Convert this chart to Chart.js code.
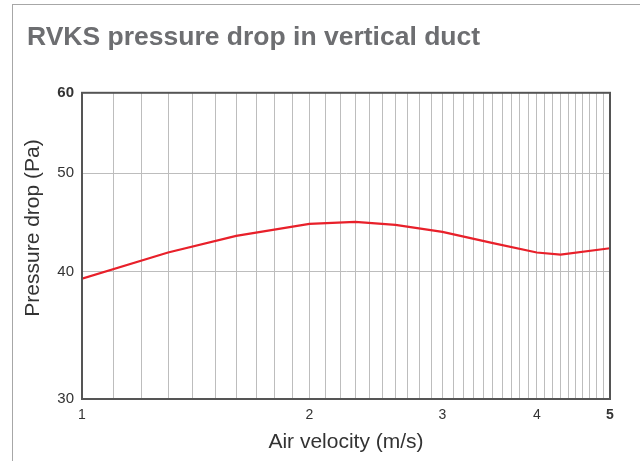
<!DOCTYPE html>
<html>
<head>
<meta charset="utf-8">
<script src="https://cdn.jsdelivr.net/npm/chart.js@4/dist/chart.umd.min.js"></script>
<style>
  html, body { margin: 0; padding: 0; background: #fff; }
  #wrap { position: relative; width: 640px; height: 461px; }
  #card { position: absolute; left: 12px; top: 4px; right: -10px; bottom: -10px;
          border-left: 1.5px solid #a7a7a7; border-top: 1.5px solid #a7a7a7; }
  canvas { position: absolute; left: 0; top: 0; }
</style>
</head>
<body>
<div id="wrap">
  <div id="card"></div>
  <canvas id="myChart" width="640" height="461"></canvas>
</div>
<script>
const velocity = [1, 1.3, 1.6, 2.0, 2.3, 2.6, 3.0, 3.5, 4.0, 4.3, 5.0];
const pressure = [39.4, 41.8, 43.4, 44.6, 44.8, 44.5, 43.8, 42.7, 41.8, 41.6, 42.2];

const xLabels = [1, 2, 3, 4, 5];
const yLabels = [30, 40, 50, 60];

// vertical grid every 0.1 m/s
const xGrid = [];
for (let i = 10; i <= 50; i++) xGrid.push(i / 10);

const points = velocity.map((v, i) => ({ x: v, y: pressure[i] }));

const yTitle = {
  id: "yTitle",
  afterDraw(chart) {
    const c = chart.ctx;
    c.save();
    c.translate(33, 228);
    c.rotate(-Math.PI / 2);
    c.font = "21px 'Liberation Sans', Arial, sans-serif";
    c.fillStyle = "#333";
    c.textAlign = "center";
    c.textBaseline = "middle";
    c.fillText("Pressure drop (Pa)", 0, 0);
    c.restore();
  },
};

const myChart = new Chart("myChart", {
  type: "line",
  data: {
    datasets: [
      {
        label: "RVKS",
        data: points,
        borderColor: "#e8202a",
        borderWidth: 2.2,
        pointRadius: 0,
        tension: 0,
        fill: false,
      },
    ],
  },
  options: {
    responsive: false,
    animation: false,
    layout: { padding: { left: 27, right: 30, top: 0, bottom: 0 } },
    plugins: {
      legend: { display: false },
      tooltip: { enabled: false },
      title: {
        display: true,
        text: "RVKS pressure drop in vertical duct",
        align: "start",
        color: "#6d6e71",
        font: { family: "'Liberation Sans', Arial, sans-serif", size: 26.5, weight: "bold" },
        padding: { top: 22, bottom: 39 },
      },
    },
    scales: {
      x: {
        type: "logarithmic",
        min: 1,
        max: 5,
        afterBuildTicks: (s) => { s.ticks = xGrid.map((v) => ({ value: v })); },
        afterFit: (s) => { s.height = 62; },
        grid: { color: "#bdbdbd", lineWidth: 1, drawTicks: false },
        border: { color: "#555", width: 2 },
        ticks: {
          autoSkip: false,
          maxRotation: 0,
          padding: 8,
          color: "#333",
          font: (ctx) => ({
            family: "'Liberation Sans', Arial, sans-serif",
            size: 14,
            weight: ctx.tick && ctx.tick.value === 5 ? "bold" : "normal",
          }),
          callback: (v) => (xLabels.includes(v) ? String(v) : ""),
        },
        title: {
          display: true,
          text: "Air velocity (m/s)",
          color: "#333",
          font: { family: "'Liberation Sans', Arial, sans-serif", size: 21 },
          padding: { top: 0, bottom: 6 },
        },
      },
      y: {
        type: "logarithmic",
        min: 30,
        max: 60,
        afterBuildTicks: (s) => { s.ticks = yLabels.map((v) => ({ value: v })); },
        afterFit: (s) => { s.width = 55; },
        grid: { color: "#bdbdbd", lineWidth: 1, drawTicks: false },
        border: { color: "#555", width: 2 },
        ticks: {
          autoSkip: false,
          padding: 8,
          color: "#333",
          font: (ctx) => ({
            family: "'Liberation Sans', Arial, sans-serif",
            size: 15,
            weight: ctx.tick && ctx.tick.value === 60 ? "bold" : "normal",
          }),
          callback: (v) => String(v),
        },
      },
    },
  },
  plugins: [
    yTitle,
    {
      id: "frame",
      afterDraw(chart) {
        const a = chart.chartArea, c = chart.ctx;
        c.save();
        c.strokeStyle = "#555";
        c.lineWidth = 2;
        c.strokeRect(a.left, a.top, a.right - a.left, a.bottom - a.top);
        c.restore();
      },
    },
  ],
});
</script>
</body>
</html>
